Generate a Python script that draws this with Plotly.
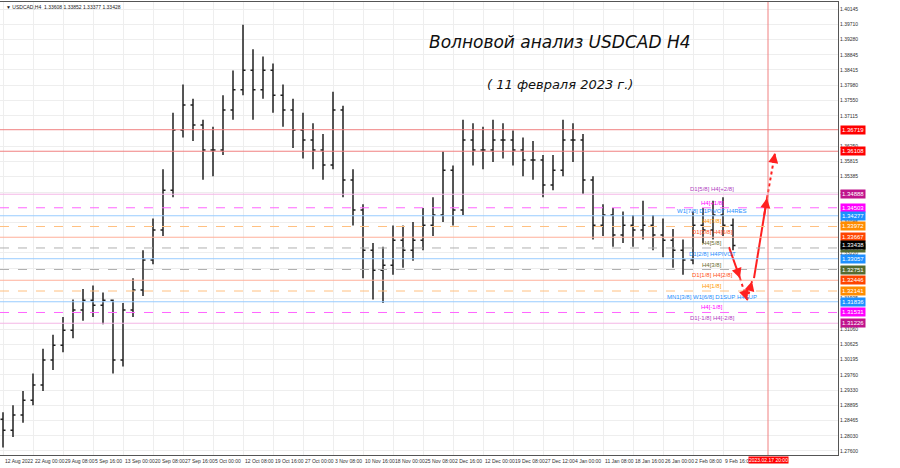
import plotly.graph_objects as go

closes = [1.2819,1.2862,1.2904,1.2947,1.3018,1.3060,1.3103,1.3160,1.3188,1.3174,1.3188,1.3018,1.3160,1.3217,1.3302,1.3387,1.3500,1.3671,1.3742,1.3685,1.3614,1.3614,1.3728,1.3785,1.3841,1.3785,1.3841,1.3770,1.3728,1.3671,1.3643,1.3614,1.3572,1.3728,1.3529,1.3444,1.3330,1.3273,1.3287,1.3358,1.3330,1.3358,1.3401,1.3430,1.3557,1.3444,1.3643,1.3614,1.3614,1.3643,1.3643,1.3614,1.3586,1.3586,1.3515,1.3557,1.3643,1.3643,1.3529,1.3401,1.3430,1.3373,1.3401,1.3387,1.3401,1.3373,1.3358,1.3330,1.3302,1.3401,1.3387,1.3430,1.3401,1.3343]
highs = [1.2870,1.2890,1.2930,1.2980,1.3050,1.3090,1.3140,1.3190,1.3220,1.3230,1.3210,1.3190,1.3180,1.3250,1.3330,1.3420,1.3560,1.3720,1.3800,1.3760,1.3700,1.3680,1.3770,1.3840,1.3970,1.3900,1.3880,1.3860,1.3800,1.3760,1.3720,1.3690,1.3660,1.3780,1.3740,1.3560,1.3460,1.3350,1.3340,1.3400,1.3400,1.3410,1.3450,1.3480,1.3610,1.3570,1.3700,1.3690,1.3680,1.3700,1.3690,1.3670,1.3650,1.3640,1.3600,1.3600,1.3700,1.3690,1.3660,1.3540,1.3460,1.3450,1.3440,1.3430,1.3470,1.3430,1.3420,1.3390,1.3360,1.3440,1.3450,1.3470,1.3480,1.3420]
lows = [1.2770,1.2800,1.2840,1.2890,1.2930,1.2990,1.3040,1.3080,1.3130,1.3140,1.3120,1.2980,1.3000,1.3140,1.3200,1.3290,1.3370,1.3480,1.3650,1.3640,1.3530,1.3540,1.3600,1.3700,1.3770,1.3700,1.3760,1.3720,1.3680,1.3620,1.3590,1.3560,1.3530,1.3560,1.3480,1.3400,1.3250,1.3190,1.3180,1.3260,1.3280,1.3300,1.3330,1.3370,1.3410,1.3400,1.3430,1.3570,1.3560,1.3580,1.3590,1.3570,1.3540,1.3530,1.3480,1.3500,1.3540,1.3580,1.3490,1.3360,1.3370,1.3340,1.3350,1.3340,1.3360,1.3330,1.3310,1.3280,1.3260,1.3290,1.3350,1.3360,1.3370,1.3330]
first_open = 1.2850
opens = [first_open] + closes[:-1]
bar_x = [3 + 10 * i for i in range(len(closes))]

date_labels = ["12 Aug 2022","22 Aug 00:00","29 Aug 08:00","5 Sep 16:00","13 Sep 00:00","20 Sep 08:00","27 Sep 16:00","5 Oct 00:00","12 Oct 08:00","19 Oct 16:00","27 Oct 00:00","3 Nov 08:00","10 Nov 16:00","18 Nov 00:00","25 Nov 08:00","2 Dec 16:00","12 Dec 00:00","19 Dec 08:00","27 Dec 12:00","4 Jan 00:00","11 Jan 08:00","18 Jan 16:00","26 Jan 00:00","2 Feb 08:00","9 Feb 16:00"]
date_x = [3 + 30 * i for i in range(len(date_labels))]

price_ticks = [1.40145,1.39710,1.39280,1.38845,1.38415,1.37980,1.37550,1.37115,1.36250,1.35815,1.35385,1.34950,1.34085,1.33220,1.32790,1.31925,1.31060,1.30625,1.30195,1.29760,1.29330,1.28895,1.28465,1.28030,1.27600]

levels = [
 (1.36719,"#f08080","solid","#ff0000",""),
 (1.36108,"#f08080","solid","#ff0000",""),
 (1.34888,"#f4b6e6","solid","#c0148c","D1[5/8] H4[+2/8]"),
 (1.34503,"#ff66ff","dash","#ff00ff","H4[+1/8]"),
 (1.34277,"#99ccff","solid","#1e90ff","W1[7/8] D1PIVOT H4RES"),
 (1.33972,"#ffc080","dash","#ff8c00","H4[7/8]"),
 (1.33667,"#ffb09a","solid","#ff4500","D1[3/8] H4[6/8]"),
 (1.33362,"#b0b0b0","dash","#556b2f","H4[5/8]"),
 (1.33057,"#99ccff","solid","#1e90ff","D1[2/8] H4PIVOT"),
 (1.32751,"#b0b0b0","dash","#556b2f","H4[3/8]"),
 (1.32446,"#ffb09a","solid","#ff4500","D1[1/8] H4[2/8]"),
 (1.32141,"#ffc080","dash","#ff8c00","H4[1/8]"),
 (1.31836,"#99ccff","solid","#1e90ff","MN1[3/8] W1[6/8] D1SUP H4SUP"),
 (1.31531,"#ff66ff","dash","#ff00ff","H4[-1/8]"),
 (1.31226,"#f4b6e6","solid","#c0148c","D1[-1/8] H4[-2/8]"),
]
label_colors = {"#c0148c":"#b040c0","#ff00ff":"#ff00ff","#1e90ff":"#1e90ff","#ff8c00":"#ff9900","#ff4500":"#ff5020","#556b2f":"#6b6b30"}
current_price = 1.33438

fc_x = [729, 740, 747, 752, 754, 767, 775]
fc_y = [1.33386, 1.32505, 1.31881, 1.32420, 1.32505, 1.34777, 1.36055]
future_x = 768

fig = go.Figure()
fig.add_trace(go.Ohlc(x=bar_x, open=opens, high=highs, low=lows, close=closes,
    increasing=dict(line=dict(color="#202020", width=1.5)),
    decreasing=dict(line=dict(color="#202020", width=1.5)),
    tickwidth=0.25, showlegend=False, hoverinfo="skip"))

for p, lc, dash, tc, lab in levels:
    fig.add_shape(type="line", xref="x", yref="y", x0=0, x1=838, y0=p, y1=p,
                  line=dict(color=lc, width=1, dash=dash))
    fig.add_annotation(x=1, xref="paper", y=p, yref="y", xanchor="left", text=f"{p:.5f}",
                       showarrow=False, font=dict(size=6, color="white", family="Liberation Sans"),
                       bgcolor=tc, borderpad=1, xshift=2)
    if lab:
        fig.add_annotation(x=712, y=p, text=lab, showarrow=False, yshift=5,
                           font=dict(size=6, color=label_colors[tc], family="Liberation Sans"))
fig.add_annotation(x=1, xref="paper", y=current_price, yref="y", xanchor="left", text=f"{current_price:.5f}",
                   showarrow=False, font=dict(size=6, color="white", family="Liberation Sans"),
                   bgcolor="black", borderpad=1, xshift=2)

fig.add_shape(type="line", x0=future_x, x1=future_x, y0=0, y1=1, yref="paper",
              line=dict(color="#f08080", width=1))

red = "#ff2020"
segs = [(0,1,"solid"),(1,2,"dot"),(2,3,"dot"),(4,5,"solid"),(5,6,"dot")]
for a, b, d in segs:
    fig.add_trace(go.Scatter(x=[fc_x[a], fc_x[b]], y=[fc_y[a], fc_y[b]], mode="lines",
                             line=dict(color=red, width=2, dash=d), showlegend=False, hoverinfo="skip"))
for a, b in [(0,1),(1,2),(2,3),(4,5),(5,6)]:
    fig.add_annotation(x=fc_x[b], y=fc_y[b], ax=(fc_x[a]+3*fc_x[b])/4, ay=(fc_y[a]+3*fc_y[b])/4,
                       xref="x", yref="y", axref="x", ayref="y", text="", showarrow=True,
                       arrowhead=2, arrowsize=1, arrowwidth=2, arrowcolor=red)

for lx, lt in zip(date_x, date_labels):
    fig.add_annotation(x=lx, y=0, yref="paper", yanchor="top", xanchor="left", text=lt, showarrow=False,
                       yshift=-1, font=dict(size=5, color="#303030", family="Liberation Sans"))
fig.add_annotation(x=future_x, y=0, yref="paper", yanchor="top", text="2023.02.17 20:00", showarrow=False,
                   yshift=-1, bgcolor="#ff0000", borderpad=0, font=dict(size=5, color="white", family="Liberation Sans"))

fig.add_annotation(x=4, y=1.0, xref="x", yref="paper", xanchor="left", yanchor="top", showarrow=False,
                   text="▼ USDCAD,H4  1.33608 1.33852 1.33377 1.33428",
                   font=dict(size=5, color="#202020", family="Liberation Sans"))
fig.add_annotation(x=560, y=1.3920, showarrow=False, text="<i>Волновой анализ USDCAD H4</i>",
                   font=dict(size=17, color="#101010", family="DejaVu Sans"))
fig.add_annotation(x=560, y=1.3800, showarrow=False, text="<i>( 11 февраля 2023 г.)</i>",
                   font=dict(size=13, color="#101010", family="DejaVu Sans"))

fig.update_layout(width=900, height=468, margin=dict(l=0, r=62, t=2, b=13),
                  paper_bgcolor="white", plot_bgcolor="white",
                  xaxis=dict(range=[0, 838], tickvals=date_x, showticklabels=False, showgrid=True,
                             gridcolor="#eeeeee", zeroline=False, rangeslider=dict(visible=False),
                             showline=True, linecolor="#555", mirror=True),
                  yaxis=dict(range=[1.27486, 1.40344], side="right", tickvals=price_ticks,
                             ticktext=[f"{v:.5f}" for v in price_ticks], showgrid=True, gridcolor="#eeeeee",
                             tickfont=dict(size=5, color="#303030", family="Liberation Sans"),
                             showline=True, linecolor="#555", mirror=True, zeroline=False, ticks=""),
                  font=dict(family="Liberation Sans"))
fig.write_html("out.html", config={"displayModeBar": False},
               post_script="document.body.style.margin='0';")
